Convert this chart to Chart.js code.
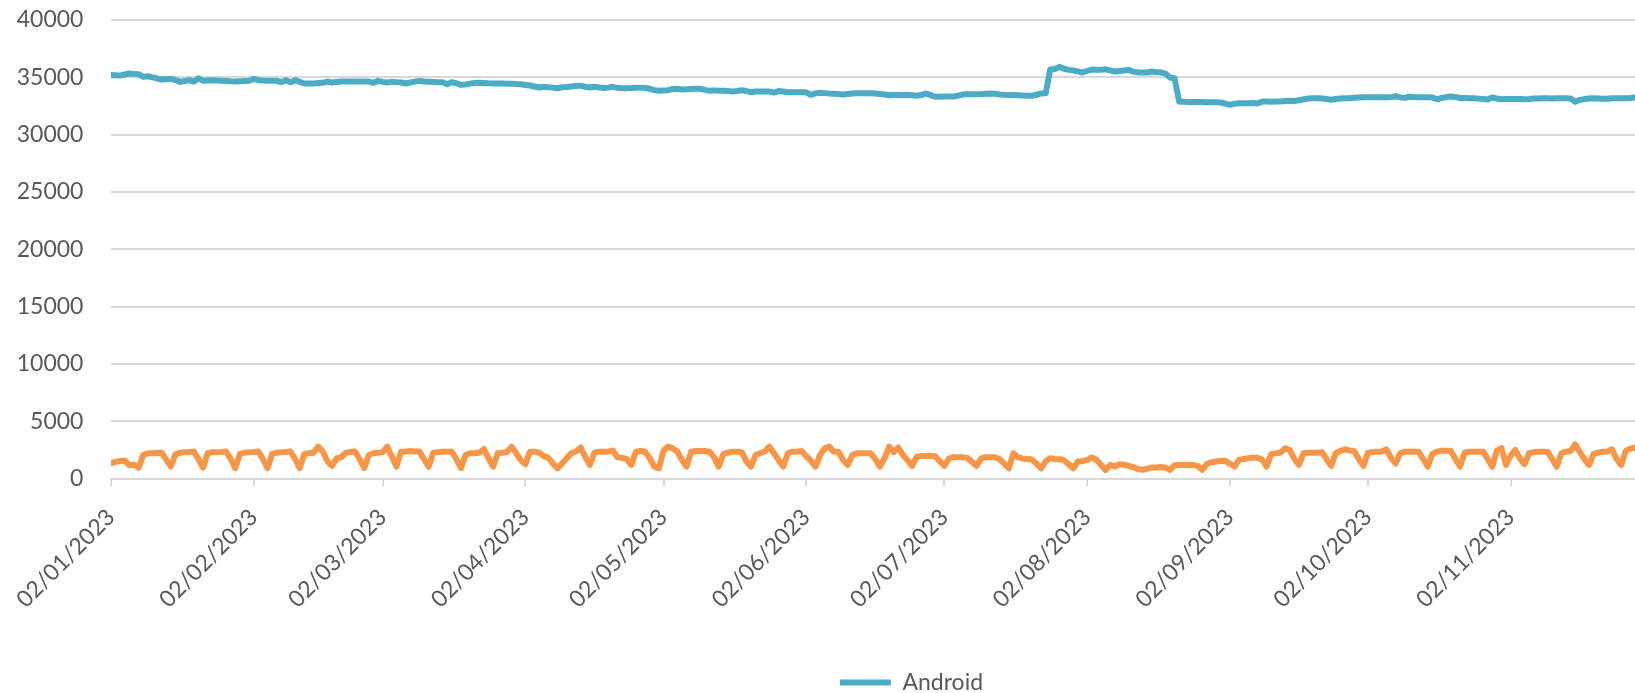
<!DOCTYPE html>
<html>
<head>
<meta charset="utf-8">
<script src="https://cdn.jsdelivr.net/npm/chart.js@4.4.1/dist/chart.umd.min.js"></script>
<style>
html, body { margin: 0; padding: 0; background: #ffffff; }
canvas { display: block; }
</style>
</head>
<body>
<canvas id="chart" width="1635" height="693"></canvas>
<script>
// ---- Data (daily, starting 02/01/2023) ----
const startDate = [2023, 0, 2];
const seriesNames = ['Android', 'iOS'];
const tickLabels = ['02/01/2023', '02/02/2023', '02/03/2023', '02/04/2023', '02/05/2023', '02/06/2023',
                    '02/07/2023', '02/08/2023', '02/09/2023', '02/10/2023', '02/11/2023'];
const yTickValues = [0, 5000, 10000, 15000, 20000, 25000, 30000, 35000, 40000];

const android = [
  35210, 35190, 35160, 35250, 35330, 35300, 35270,
  35040, 35100, 35000, 34900, 34810, 34840, 34870,
  34750, 34600, 34680, 34750, 34630, 34920, 34690,
  34720, 34750, 34720, 34700, 34680, 34650, 34630,
  34650, 34670, 34690, 34870, 34750, 34720, 34700,
  34690, 34690, 34570, 34750, 34570, 34750, 34600,
  34460, 34460, 34470, 34500, 34520, 34630, 34545,
  34600, 34630, 34630, 34640, 34630, 34630, 34630,
  34630, 34520, 34690, 34600, 34545, 34600, 34580,
  34550, 34460, 34550, 34620, 34690, 34640, 34620,
  34600, 34580, 34570, 34400, 34575, 34480, 34340,
  34380, 34450, 34500, 34520, 34500, 34480, 34470,
  34460, 34450, 34440, 34430, 34410, 34400, 34330,
  34285, 34200, 34110, 34170, 34130, 34100, 34050,
  34130, 34150, 34200, 34250, 34270, 34180, 34110,
  34170, 34120, 34060, 34100, 34170, 34080, 34050,
  34050, 34060, 34080, 34100, 34070, 34000, 33880,
  33820, 33850, 33880, 33980, 34000, 33940, 33950,
  33980, 34000, 34000, 33900, 33820, 33860, 33830,
  33820, 33800, 33770, 33800, 33870, 33800, 33700,
  33760, 33760, 33760, 33760, 33670, 33800, 33760,
  33700, 33700, 33700, 33700, 33690, 33470, 33600,
  33650, 33620, 33590, 33570, 33540, 33500, 33540,
  33580, 33610, 33620, 33610, 33600, 33590, 33540,
  33500, 33440, 33460, 33470, 33460, 33470, 33440,
  33390, 33450, 33590, 33450, 33300, 33310, 33320,
  33320, 33330, 33400, 33500, 33530, 33530, 33530,
  33530, 33560, 33580, 33560, 33500, 33470, 33460,
  33450, 33440, 33420, 33400, 33390, 33480, 33590,
  33600, 35700, 35720, 35910, 35750, 35650, 35600,
  35520, 35420, 35550, 35680, 35650, 35650, 35700,
  35600, 35500, 35550, 35600, 35650, 35500, 35430,
  35420, 35420, 35500, 35450, 35440, 35330, 34980,
  34920, 32870, 32860, 32850, 32850, 32840, 32840,
  32830, 32830, 32820, 32800, 32700, 32600, 32700,
  32740, 32730, 32740, 32760, 32720, 32880, 32880,
  32870, 32890, 32900, 32930, 32950, 32930, 33000,
  33080, 33150, 33170, 33180, 33150, 33100, 33040,
  33100, 33150, 33170, 33180, 33220, 33240, 33250,
  33260, 33260, 33270, 33270, 33260, 33270, 33350,
  33250, 33220, 33300, 33280, 33260, 33250, 33250,
  33240, 33080, 33200, 33270, 33320, 33280, 33200,
  33190, 33180, 33170, 33140, 33100, 33060, 33240,
  33150, 33080, 33100, 33110, 33100, 33100, 33080,
  33100, 33150, 33160, 33180, 33180, 33160, 33180,
  33180, 33170, 33160, 32870, 33030, 33100, 33150,
  33180, 33150, 33120, 33130, 33180, 33170, 33170,
  33180, 33200, 33240
];

const ios = [
  1330, 1450, 1530, 1560, 1150, 1200, 950,
  2050, 2200, 2200, 2230, 2250, 1650, 1050,
  2100, 2250, 2300, 2300, 2350, 1700, 950,
  2200, 2300, 2300, 2320, 2350, 1700, 900,
  2150, 2250, 2300, 2320, 2350, 1700, 900,
  2150, 2250, 2300, 2320, 2350, 1700, 900,
  2150, 2200, 2250, 2780, 2350, 1500, 1100,
  1760, 1850, 2250, 2300, 2350, 1700, 900,
  2050, 2200, 2250, 2300, 2780, 1900, 1040,
  2340, 2350, 2400, 2350, 2350, 1700, 1040,
  2250, 2300, 2340, 2340, 2340, 1700, 900,
  2050, 2200, 2200, 2250, 2550, 1750, 1040,
  2200, 2250, 2300, 2780, 2200, 1600, 1250,
  2340, 2340, 2250, 1950, 1800, 1300, 890,
  1330, 1770, 2200, 2350, 2700, 1900, 1180,
  2250, 2340, 2340, 2340, 2450, 1850, 1800,
  1700, 1180, 2340, 2400, 2340, 1770, 1040,
  890, 2430, 2780, 2630, 2350, 1620, 1040,
  2340, 2400, 2400, 2400, 2340, 1850, 1040,
  2140, 2250, 2340, 2340, 2300, 1500, 1040,
  2050, 2200, 2350, 2780, 2200, 1600, 1040,
  2200, 2340, 2340, 2400, 1950, 1550, 1040,
  2050, 2630, 2780, 2340, 2340, 1620, 1180,
  2050, 2200, 2200, 2200, 2200, 1700, 1040,
  1760, 2780, 2300, 2700, 2050, 1600, 1100,
  1900, 1970, 1970, 1970, 1950, 1500, 1100,
  1760, 1850, 1850, 1850, 1800, 1450, 1100,
  1760, 1850, 1850, 1850, 1700, 1300, 890,
  2200, 1850, 1750, 1700, 1650, 1300, 890,
  1500, 1760, 1700, 1680, 1600, 1250, 890,
  1480, 1520, 1600, 1840, 1660, 1200, 750,
  1180, 1050, 1240, 1200, 1100, 1000, 830,
  760, 850, 950, 960, 1000, 950, 760,
  1150, 1180, 1180, 1180, 1180, 1100, 760,
  1270, 1400, 1480, 1520, 1540, 1300, 1040,
  1620, 1700, 1770, 1820, 1800, 1660, 1040,
  2130, 2200, 2250, 2640, 2500, 1700, 1180,
  2200, 2250, 2250, 2250, 2300, 1700, 1100,
  2200, 2400, 2550, 2450, 2400, 1700, 1100,
  2250, 2300, 2340, 2340, 2550, 1800, 1300,
  2200, 2340, 2340, 2340, 2340, 1700, 1040,
  2140, 2340, 2430, 2430, 2400, 1700, 1040,
  2250, 2340, 2340, 2340, 2340, 1700, 1040,
  2430, 2640, 1180, 2000, 2490, 1750, 1240,
  2200, 2300, 2340, 2340, 2340, 1700, 1040,
  2200, 2340, 2400, 2980, 2300, 1700, 1180,
  2140, 2250, 2340, 2340, 2550, 1700, 1180,
  2430, 2600, 2700
];

// ---- Derived helpers ----
const DAY = 86400000;
const t0 = Date.UTC(startDate[0], startDate[1], startDate[2]);
function pad(n) { return (n < 10 ? '0' : '') + n; }
const categories = android.map((_, i) => {
  const d = new Date(t0 + i * DAY);
  return pad(d.getUTCDate()) + '/' + pad(d.getUTCMonth() + 1) + '/' + d.getUTCFullYear();
});
function dayIndex(dmy) {
  const p = dmy.split('/').map(Number);
  return Math.round((Date.UTC(p[2], p[1] - 1, p[0]) - t0) / DAY);
}
const tickPositions = tickLabels.map(dayIndex);

const textColor = '#595959';
const gridColor = '#d9d9d9';
const fontFamily = 'Lato, "Open Sans", "Liberation Sans", sans-serif';

const legendShift = {
  id: 'legendShift',
  afterLayout(chart) {
    const lg = chart.legend;
    if (lg) { lg.left += 94; lg.right += 94; }
  }
};

new Chart(document.getElementById('chart'), {
  type: 'line',
  data: {
    datasets: [
      {
        label: seriesNames[0],
        data: android.map((v, i) => ({ x: i, y: v })),
        borderColor: '#4BACC6',
        backgroundColor: '#4BACC6',
        borderWidth: 6,
        pointRadius: 0,
        tension: 0,
        borderCapStyle: 'round',
        borderJoinStyle: 'round'
      },
      {
        label: seriesNames[1],
        data: ios.map((v, i) => ({ x: i, y: v })),
        borderColor: '#F79646',
        backgroundColor: '#F79646',
        borderWidth: 6,
        pointRadius: 0,
        tension: 0,
        borderCapStyle: 'round',
        borderJoinStyle: 'round'
      }
    ]
  },
  options: {
    responsive: false,
    devicePixelRatio: 1,
    animation: false,
    layout: { padding: { top: 20, left: 0, right: 0, bottom: 0 } },
    plugins: {
      tooltip: { enabled: false },
      legend: {
        position: 'bottom',
        maxHeight: 22,
        labels: {
          filter: (item) => item.text === seriesNames[0],
          usePointStyle: true,
          pointStyle: 'line',
          pointStyleWidth: 51,
          padding: 0,
          color: textColor,
          font: { family: fontFamily, size: 23 }
        }
      }
    },
    scales: {
      x: {
        type: 'linear',
        min: 0,
        max: android.length - 1,
        afterBuildTicks: (scale) => { scale.ticks = tickPositions.map(v => ({ value: v })); },
        afterFit: (scale) => { scale.height = 192.5; scale.paddingLeft = 0; scale.paddingRight = 0; },
        ticks: {
          autoSkip: false,
          minRotation: 45,
          maxRotation: 45,
          padding: 17,
          color: textColor,
          font: { family: fontFamily, size: 23 },
          callback: (value, index) => tickLabels[index]
        },
        grid: {
          drawOnChartArea: false,
          drawTicks: true,
          tickLength: 8,
          color: gridColor,
          lineWidth: 2
        },
        border: { display: true, color: gridColor, width: 2 }
      },
      y: {
        min: yTickValues[0],
        max: yTickValues[yTickValues.length - 1],
        afterBuildTicks: (scale) => { scale.ticks = yTickValues.map(v => ({ value: v })); },
        afterFit: (scale) => { scale.width = 111; scale.paddingTop = 0; scale.paddingBottom = 0; },
        ticks: {
          padding: 27.6,
          color: textColor,
          font: { family: fontFamily, size: 23 },
          callback: (value) => String(value)
        },
        grid: { drawTicks: false, color: gridColor, lineWidth: 2 },
        border: { display: false }
      }
    }
  },
  plugins: [legendShift]
});
</script>
</body>
</html>
